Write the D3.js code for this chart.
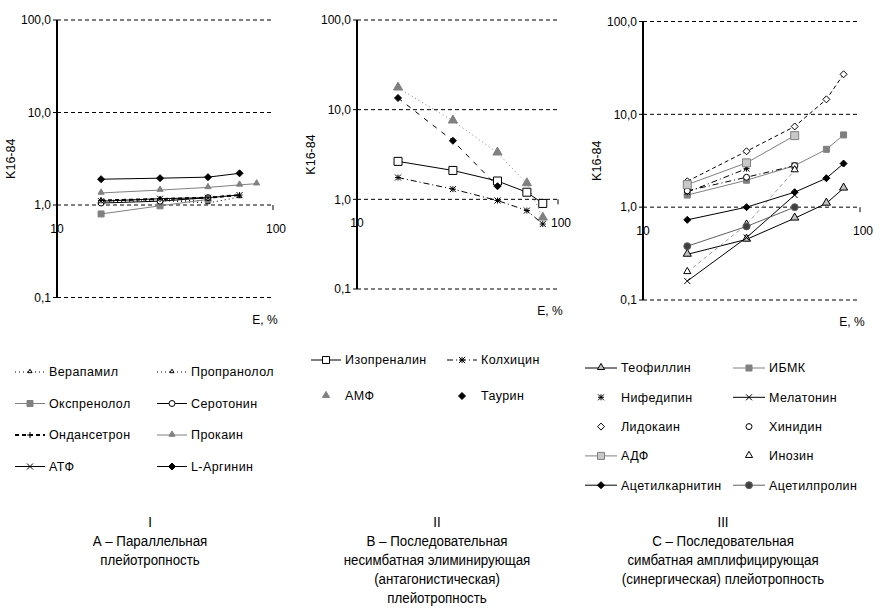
<!DOCTYPE html>
<html>
<head>
<meta charset="utf-8">
<script src="https://cdn.jsdelivr.net/npm/d3@7"></script>
<style>
body { margin: 0; background: #fff; }
text { font-family: "Liberation Sans", Arial, sans-serif; }
</style>
</head>
<body>
<svg id="chart"></svg>
<script>
// shared axes
var xValues = [16, 30, 50, 70, 84];
var yTickValues = [0.1, 1, 10, 100];
var yTickLabels = ["0,1", "1,0", "10,0", "100,0"];
var xTickValues = [10, 100];
var xTickLabels = ["10", "100"];

// panel I
var namesA = ["Верапамил", "Пропранолол", "Окспренолол", "Серотонин",
              "Ондансетрон", "Прокаин", "АТФ", "L-Аргинин"];
var valuesA = [
  [1.08, 1.12, 1.05, 1.22],
  [1.12, 1.15, 1.1],
  [0.8, 0.98, 1.15],
  [1.05, 1.1, 1.2],
  [1.12, 1.16, 1.2, 1.28],
  [1.35, 1.45, 1.55, 1.65, 1.7],
  [1.1, 1.17, 1.2, 1.28],
  [1.9, 1.95, 2.0, 2.2]
];

// panel II
var namesB = ["Изопреналин", "Колхицин", "АМФ", "Таурин"];
var valuesB = [
  [2.65, 2.1, 1.6, 1.2, 0.9],
  [1.75, 1.3, 0.97, 0.75, 0.53],
  [17.5, 7.5, 3.3, 1.5, 0.62],
  [13.5, 4.5, 1.4]
];

// panel III
var namesC = ["Теофиллин", "ИБМК", "Нифедипин", "Мелатонин", "Лидокаин",
              "Хинидин", "АДФ", "Инозин", "Ацетилкарнитин", "Ацетилпролин"];
var valuesC = [
  [0.31, 0.45, 0.76, 1.1, 1.6],
  [1.35, 1.95, 2.8, 4.2, 6.0],
  [1.45, 2.6],
  [0.16, 0.47, 1.35],
  [1.9, 4.0, 7.4, 14.5, 27],
  [1.5, 2.1, 2.8],
  [1.75, 3.0, 5.9],
  [0.2, 0.65, 2.5],
  [0.73, 1.0, 1.45, 2.05, 2.95],
  [0.38, 0.62, 1.0]
];

var captionA = ["I", "А – Параллельная", "плейотропность"];
var captionB = ["II", "В – Последовательная", "несимбатная элиминирующая",
                "(антагонистическая)", "плейотропность"];
var captionC = ["III", "С – Последовательная", "симбатная амплифицирующая",
                "(синергическая) плейотропность"];

//styles
var dashes = {solid: null, dot: "1,3", dash: "4,3", longdash: "5,6", dashdot: "6,3,1,3"};

var stylesA = [
  {line: "dot", stroke: "#000", marker: "tri", fill: "#fff", ms: 4},
  {line: "dot", stroke: "#000", marker: "tri", fill: "#fff", ms: 4},
  {line: "solid", stroke: "#808080", marker: "sq", fill: "#808080", ms: 6},
  {line: "solid", stroke: "#000", marker: "circ", fill: "#fff", ms: 6},
  {line: "dash", stroke: "#000", marker: "plus", fill: "#000", ms: 6, width: 2},
  {line: "solid", stroke: "#808080", marker: "tri", fill: "#808080", ms: 6},
  {line: "solid", stroke: "#000", marker: "x", fill: "#000", ms: 6},
  {line: "solid", stroke: "#000", marker: "dia", fill: "#000", ms: 7}
];

var stylesB = [
  {line: "solid", stroke: "#000", marker: "sq", fill: "#fff", ms: 8},
  {line: "dashdot", stroke: "#000", marker: "star", fill: "#000", ms: 6},
  {line: "dot", stroke: "#808080", marker: "tri", fill: "#808080", ms: 9, noLegendLine: true},
  {line: "longdash", stroke: "#000", marker: "dia", fill: "#000", ms: 7, noLegendLine: true}
];

var stylesC = [
  {line: "solid", stroke: "#000", marker: "tri", fill: "#c0c0c0", ms: 8},
  {line: "solid", stroke: "#808080", marker: "sq", fill: "#808080", ms: 6},
  {line: "dashdot", stroke: "#000", marker: "star", fill: "#000", ms: 6, noLegendLine: true},
  {line: "solid", stroke: "#000", marker: "x", fill: "#000", ms: 6},
  {line: "dash", stroke: "#000", marker: "dia", fill: "#fff", ms: 7, noLegendLine: true},
  {line: "dashdot", stroke: "#000", marker: "circ", fill: "#fff", ms: 6, noLegendLine: true},
  {line: "solid", stroke: "#808080", marker: "sq", fill: "#c8c8c8", ms: 8},
  {line: "dash", stroke: "#a0a0a0", marker: "tri", fill: "#fff", ms: 7, noLegendLine: true},
  {line: "solid", stroke: "#000", marker: "dia", fill: "#000", ms: 7},
  {line: "solid", stroke: "#606060", marker: "circ", fill: "#404040", ms: 7}
];

var width = 880;
var height = 610;

var svg = d3.select("#chart")
            .attr("width", width)
            .attr("height", height);

function drawMarker(g, type, x, y, size, fill, stroke) {
  var s = size / 2;
  if (type == "plus" || type == "x" || type == "star") {
    var p = "";
    if (type == "plus" || type == "star") {
      p += "M" + (x - s) + "," + y + "H" + (x + s);
      p += "M" + x + "," + (y - s) + "V" + (y + s);
    }
    if (type == "x" || type == "star") {
      p += "M" + (x - s) + "," + (y - s) + "L" + (x + s) + "," + (y + s);
      p += "M" + (x - s) + "," + (y + s) + "L" + (x + s) + "," + (y - s);
    }
    g.append("path")
      .attr("d", p)
      .attr("stroke", stroke)
      .attr("stroke-width", 1)
      .attr("fill", "none");
    return;
  }
  if (type == "dia") {
    g.append("path")
      .attr("d", "M" + x + "," + (y - s) + "L" + (x + s) + "," + y +
                 "L" + x + "," + (y + s) + "L" + (x - s) + "," + y + "Z")
      .attr("fill", fill)
      .attr("stroke", stroke)
      .attr("stroke-width", 1);
    return;
  }
  var sym = {tri: d3.symbolTriangle, sq: d3.symbolSquare, circ: d3.symbolCircle}[type];
  var area = {tri: 0.45, sq: 1, circ: 0.78}[type] * size * size;
  g.append("path")
    .attr("d", d3.symbol().type(sym).size(area)())
    .attr("transform", "translate(" + x + "," + (type == "tri" ? y - 0.5 : y) + ")")
    .attr("fill", fill)
    .attr("stroke", stroke)
    .attr("stroke-width", 1);
}

function drawPanel(p, names, values, styles) {
  var g = svg.append("g");

  var x = d3.scaleLog().domain([10, 100]).range([p.x0, p.x1]);
  var y = d3.scaleLog().domain([0.1, 100]).range([p.yBot, p.yTop]);

  // dashed gridlines
  yTickValues.forEach(function (v) {
    g.append("line")
      .attr("x1", p.x0).attr("x2", p.x1)
      .attr("y1", y(v)).attr("y2", y(v))
      .attr("stroke", "#000")
      .attr("stroke-dasharray", "4,3");
  });

  // y axis
  g.append("line")
    .attr("x1", p.x0).attr("x2", p.x0)
    .attr("y1", y(100)).attr("y2", y(0.1))
    .attr("stroke", "#000")
    .attr("stroke-width", 2);

  yTickValues.forEach(function (v, i) {
    g.append("line")
      .attr("x1", p.x0 - 4).attr("x2", p.x0)
      .attr("y1", y(v)).attr("y2", y(v))
      .attr("stroke", "#000");
    g.append("text")
      .text(yTickLabels[i])
      .attr("font-size", "12px")
      .attr("text-anchor", "end")
      .attr("dy", ".35em")
      .attr("x", p.x0 - 6)
      .attr("y", y(v));
  });

  // x axis crosses at 1,0
  g.append("line")
    .attr("x1", p.x1).attr("x2", p.x1)
    .attr("y1", y(1)).attr("y2", y(1) + 5)
    .attr("stroke", "#000");

  xTickValues.forEach(function (v, i) {
    g.append("text")
      .text(xTickLabels[i])
      .attr("font-size", "12px")
      .attr("text-anchor", "middle")
      .attr("x", x(v) + (i == 1 ? 3 : 0))
      .attr("y", y(1) + 28);
  });

  g.append("text")
    .text("E, %")
    .attr("font-size", "12px")
    .attr("text-anchor", "middle")
    .attr("x", p.x1 - 8)
    .attr("y", p.yBot + 26);

  g.append("text")
    .text("K16-84")
    .attr("font-size", "12.5px")
    .attr("text-anchor", "middle")
    .attr("transform", "translate(" + (p.x0 - 42) + "," + ((y(1) + y(10)) / 2) + ") rotate(-90)");

  // series
  var line = d3.line()
    .x(function (d, i) { return x(xValues[i]); })
    .y(function (d) { return y(d); });

  values.forEach(function (vals, k) {
    var st = styles[k];
    g.append("path")
      .attr("d", line(vals))
      .attr("fill", "none")
      .attr("stroke", st.stroke)
      .attr("stroke-width", st.width || 1)
      .attr("stroke-dasharray", dashes[st.line]);
  });

  values.forEach(function (vals, k) {
    var st = styles[k];
    vals.forEach(function (v, i) {
      drawMarker(g, st.marker, x(xValues[i]), y(v), st.ms, st.fill, st.stroke == "#a0a0a0" ? "#000" : st.stroke);
    });
  });

  // legend
  var lg = svg.append("g");
  names.forEach(function (name, k) {
    var st = styles[k];
    var col = k % 2;
    var row = Math.floor(k / 2);
    var lx = p.legX[col];
    var ly = p.legY + row * p.legStep;
    if (!st.noLegendLine) {
      lg.append("line")
        .attr("x1", lx).attr("x2", lx + p.legLen)
        .attr("y1", ly).attr("y2", ly)
        .attr("stroke", st.stroke == "#a0a0a0" ? "#000" : st.stroke)
        .attr("stroke-width", st.width || 1)
        .attr("stroke-dasharray", dashes[st.line]);
    }
    drawMarker(lg, st.marker, lx + p.legLen / 2, ly, Math.min(st.ms, 7), st.fill,
               st.stroke == "#a0a0a0" ? "#000" : st.stroke);
    lg.append("text")
      .text(name)
      .attr("font-size", "12.5px")
      .attr("letter-spacing", "0.4px")
      .attr("dy", ".35em")
      .attr("x", lx + p.legLen + 4)
      .attr("y", ly);
  });

  // caption, narrow face
  var cg = svg.append("g")
    .attr("transform", "translate(" + p.capX + ",0) scale(0.86,1)");
  p.caption.forEach(function (t, i) {
    cg.append("text")
      .text(t)
      .attr("font-size", "15.5px")
      .attr("text-anchor", "middle")
      .attr("x", 0)
      .attr("y", 527 + i * 19);
  });
}

drawPanel({x0: 57, x1: 273, yTop: 20, yBot: 297.5,
           legX: [15, 157], legY: 372, legStep: 31.5, legLen: 30,
           capX: 150, caption: captionA}, namesA, valuesA, stylesA);

drawPanel({x0: 357, x1: 558, yTop: 20, yBot: 289,
           legX: [311, 447], legY: 360, legStep: 36, legLen: 30,
           capX: 437, caption: captionB}, namesB, valuesB, stylesB);

drawPanel({x0: 643, x1: 860, yTop: 21.5, yBot: 300,
           legX: [585, 733], legY: 368, legStep: 29.3, legLen: 32,
           capX: 723, caption: captionC}, namesC, valuesC, stylesC);
</script>
</body>
</html>
